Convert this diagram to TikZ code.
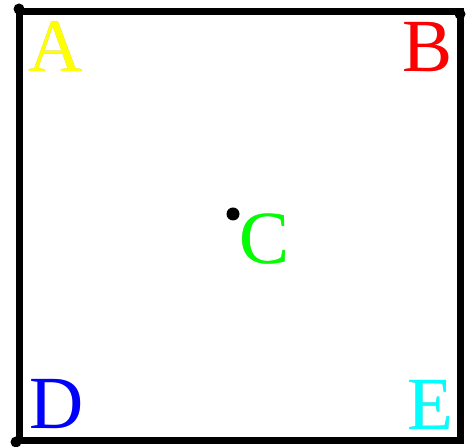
\documentclass[tikz,border=0pt]{standalone}
\usepackage{fontspec}
\setmainfont{Liberation Serif}
\usepackage{xcolor}
\usepackage[outline]{contour}
\contourlength{1.3pt}
\definecolor{capA}{RGB}{255,255,0}
\definecolor{capB}{RGB}{255,0,0}
\definecolor{capC}{RGB}{0,255,0}
\definecolor{capD}{RGB}{0,0,255}
\definecolor{capE}{RGB}{0,255,255}

\begin{document}
\begin{tikzpicture}[x=1pt, y=1pt,
  letter/.style={inner sep=0pt, font=\fontsize{75}{75}\selectfont},
  dot/.style={circle, fill=black, inner sep=0pt, minimum size=#1},
  frame/.style={line width=7pt, line join=miter},
]
  \useasboundingbox (0,0) rectangle (466,447);
  % corners of the square
  \coordinate (tl) at (19,435);
  \coordinate (tr) at (460,435);
  \coordinate (br) at (460,6);
  \coordinate (bl) at (19,6);
  \draw[frame] (tl) -- (tr) -- (br) -- (bl) -- cycle;
  \node[dot=11pt] (tldot) at (19,438) {};
  \node[dot=11pt] (trdot) at (460,433) {};
  \node[dot=11pt] (bldot) at (16,5) {};
  % centre point
  \node[dot=13pt] (cdot) at (233,233) {};
  % labels
  \node[letter] (A) at (56,400) {\contour{gray!55}{\textcolor{capA}{A}}};
  \node[letter] (B) at (428,400) {\contour{gray!55}{\textcolor{capB}{B}}};
  \node[letter] (C) at (265,208) {\contour{gray!55}{\textcolor{capC}{C}}};
  \node[letter] (D) at (57,43) {\contour{gray!55}{\textcolor{capD}{D}}};
  \node[letter] (E) at (430,42) {\contour{gray!55}{\textcolor{capE}{E}}};
\end{tikzpicture}
\end{document}
